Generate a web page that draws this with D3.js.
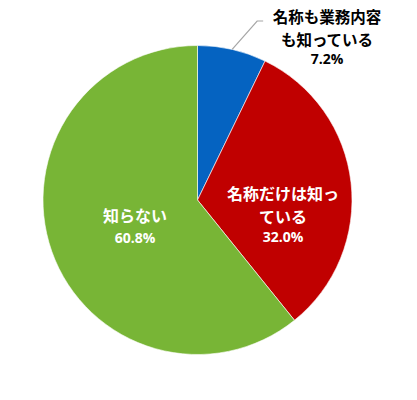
<!DOCTYPE html>
<html><head><meta charset="utf-8">
<script src="https://d3js.org/d3.v7.min.js"></script>
<style>html,body{margin:0;padding:0;background:#fff;}svg{display:block;}</style>
</head><body>
<script>
const categories = ["名称も業務内容も知っている", "名称だけは知っている", "知らない"];
const values = [7.2, 32.0, 60.8];
const labelLines = [["名称も業務内容", "も知っている"], ["名称だけは知っ", "ている"], ["知らない"]];
const colors = ["#0563C1", "#C00000", "#78B536"];

const W = 417, H = 400, cx = 197.5, cy = 200, R = 154.5;
const svg = d3.select("body").append("svg").attr("width", W).attr("height", H);
const g = svg.append("g").attr("transform", `translate(${cx},${cy})`);
const pie = d3.pie().sort(null).value(d => d)(values);
const arc = d3.arc().innerRadius(0).outerRadius(R);
g.selectAll("path").data(pie).join("path")
  .attr("d", arc).attr("fill", (d, i) => colors[i])
  .attr("stroke", "#fff").attr("stroke-width", 0.6);

const jpFont = "'Noto Sans CJK JP', sans-serif";
const numFont = "'Open Sans', 'Liberation Sans', sans-serif";

// leader line for small slice
const mid0 = (pie[0].startAngle + pie[0].endAngle) / 2;
const p0 = [Math.sin(mid0) * R, -Math.cos(mid0) * R];
g.append("polyline")
  .attr("points", [p0, [p0[0] + 25, -179], [p0[0] + 31, -179]].map(p => p.join(",")).join(" "))
  .attr("fill", "none").attr("stroke", "#a6a6a6").attr("stroke-width", 1.2);

const labelPos = [
  {x: 327, ys: [16, 38.5], py: 58.5, fs: 15.5, color: "#000"},
  {x: 283, ys: [193, 216], py: 236, fs: 16, color: "#fff"},
  {x: 135, ys: [215], py: 237, fs: 16, color: "#fff"}
];
labelPos.forEach((lp, i) => {
  labelLines[i].forEach((t, j) => {
    svg.append("text").attr("x", lp.x).attr("y", lp.ys[j])
      .attr("text-anchor", "middle").attr("dominant-baseline", "central")
      .attr("font-family", jpFont).attr("font-weight", "bold").attr("font-size", lp.fs)
      .attr("fill", lp.color).text(t);
  });
  svg.append("text").attr("x", lp.x).attr("y", lp.py)
    .attr("text-anchor", "middle").attr("dominant-baseline", "central")
    .attr("font-family", numFont).attr("font-weight", "bold").attr("font-size", 14)
    .attr("fill", lp.color).text(values[i].toFixed(1) + "%");
});
</script>
</body></html>
